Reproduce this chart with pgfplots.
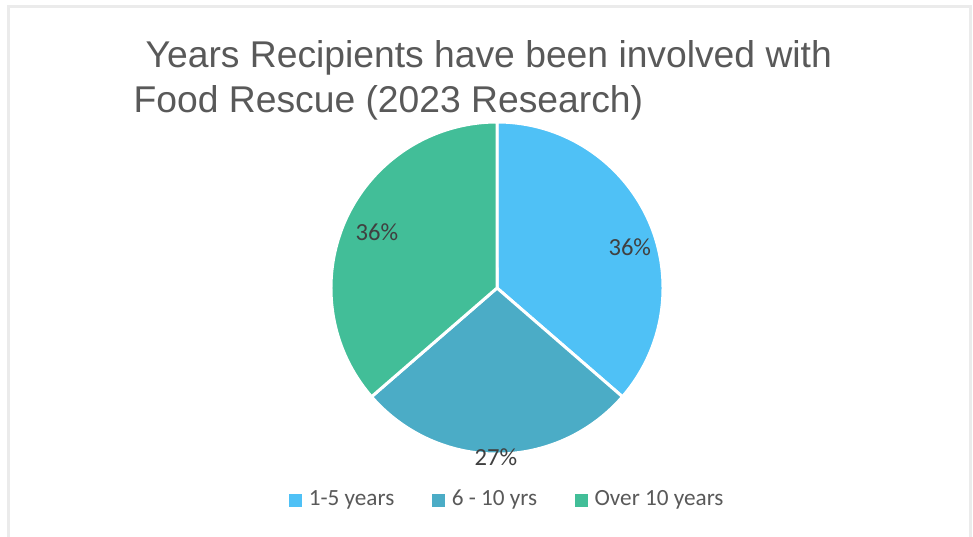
\documentclass[border=0pt]{standalone}
\usepackage{pgfplots}
\usepackage{pgfplotstable}
\pgfplotsset{compat=1.18}
\usepackage{fontspec}
\setmainfont{Liberation Sans}
\newfontfamily\calib{Carlito}
\definecolor{cA}{RGB}{79,193,246}
\definecolor{cB}{RGB}{75,172,198}
\definecolor{cC}{RGB}{66,190,152}
\definecolor{ttl}{RGB}{89,89,89}
\definecolor{lbl}{RGB}{64,64,64}

% value = number of recipients; lx, ly = data label position (axis units)
\pgfplotstableread{
value lx ly
4 0.80 0.247
3 -0.006 -1.018
4 -0.723 0.337
}\pietable

\begin{document}
\begin{tikzpicture}
\useasboundingbox (0,0) rectangle (9.73cm,5.36cm);
\fill[white] (0,0) rectangle (9.73cm,5.36cm);
\draw[black!8, line width=0.3mm] (0.08cm,-0.2cm) -- (0.08cm,5.30cm) -- (9.70cm,5.30cm) -- (9.70cm,-0.2cm);

\pgfplotstablegetelem{0}{value}\of\pietable \let\vA\pgfplotsretval
\pgfplotstablegetelem{1}{value}\of\pietable \let\vB\pgfplotsretval
\pgfplotstablegetelem{2}{value}\of\pietable \let\vC\pgfplotsretval
\pgfplotstablegetelem{0}{lx}\of\pietable \let\xA\pgfplotsretval
\pgfplotstablegetelem{1}{lx}\of\pietable \let\xB\pgfplotsretval
\pgfplotstablegetelem{2}{lx}\of\pietable \let\xC\pgfplotsretval
\pgfplotstablegetelem{0}{ly}\of\pietable \let\yA\pgfplotsretval
\pgfplotstablegetelem{1}{ly}\of\pietable \let\yB\pgfplotsretval
\pgfplotstablegetelem{2}{ly}\of\pietable \let\yC\pgfplotsretval
\pgfmathsetmacro\total{\vA+\vB+\vC}
\pgfmathsetmacro\aA{90}
\pgfmathsetmacro\aB{\aA-360*\vA/\total}
\pgfmathsetmacro\aC{\aB-360*\vB/\total}
\pgfmathsetmacro\aD{\aC-360*\vC/\total}
\pgfmathtruncatemacro\pA{round(100*\vA/\total)}
\pgfmathtruncatemacro\pB{round(100*\vB/\total)}
\pgfmathtruncatemacro\pC{round(100*\vC/\total)}

\begin{axis}[
  at={(4.97cm,2.48cm)}, anchor=center,
  scale only axis, width=3.32cm, height=3.32cm,
  xmin=-1, xmax=1, ymin=-1, ymax=1,
  hide axis, clip=false,
  legend columns=3,
  legend style={at={(0.539,-0.14)}, anchor=center, draw=none, fill=none,
    font=\calib\fontsize{6.6pt}{7.2pt}\selectfont, text=ttl,
    /tikz/every even column/.append style={column sep=0.31cm},
    inner sep=0pt},
  legend image code/.code={\fill[#1] (0mm,-0.55mm) rectangle (1.1mm,0.55mm);},
]
\addlegendimage{cA}\addlegendentry{1-5 years}
\addlegendimage{cB}\addlegendentry{6 - 10 yrs}
\addlegendimage{cC}\addlegendentry{Over 10 years}
\fill[cA, draw=white, line width=0.85pt, line join=round] (axis cs:0,0) -- (axis cs:{cos(\aA)},{sin(\aA)}) arc[start angle=\aA, end angle=\aB, radius=1.66cm] -- cycle;
\fill[cB, draw=white, line width=0.85pt, line join=round] (axis cs:0,0) -- (axis cs:{cos(\aB)},{sin(\aB)}) arc[start angle=\aB, end angle=\aC, radius=1.66cm] -- cycle;
\fill[cC, draw=white, line width=0.85pt, line join=round] (axis cs:0,0) -- (axis cs:{cos(\aC)},{sin(\aC)}) arc[start angle=\aC, end angle=\aD, radius=1.66cm] -- cycle;
\node[text=lbl, font=\calib\fontsize{7pt}{8pt}\selectfont] at (axis cs:\xA,\yA) {\pA\%};
\node[text=lbl, font=\calib\fontsize{7pt}{8pt}\selectfont] at (axis cs:\xB,\yB) {\pB\%};
\node[text=lbl, font=\calib\fontsize{7pt}{8pt}\selectfont] at (axis cs:\xC,\yC) {\pC\%};
\end{axis}

\node[anchor=base west, inner sep=0pt, text=ttl, font=\fontsize{10.6pt}{12pt}\selectfont] at (1.45cm,4.69cm) {Years Recipients have been involved with};
\node[anchor=base west, inner sep=0pt, text=ttl, font=\fontsize{10.6pt}{12pt}\selectfont] at (1.33cm,4.24cm) {Food Rescue (2023 Research)};
\end{tikzpicture}
\end{document}
